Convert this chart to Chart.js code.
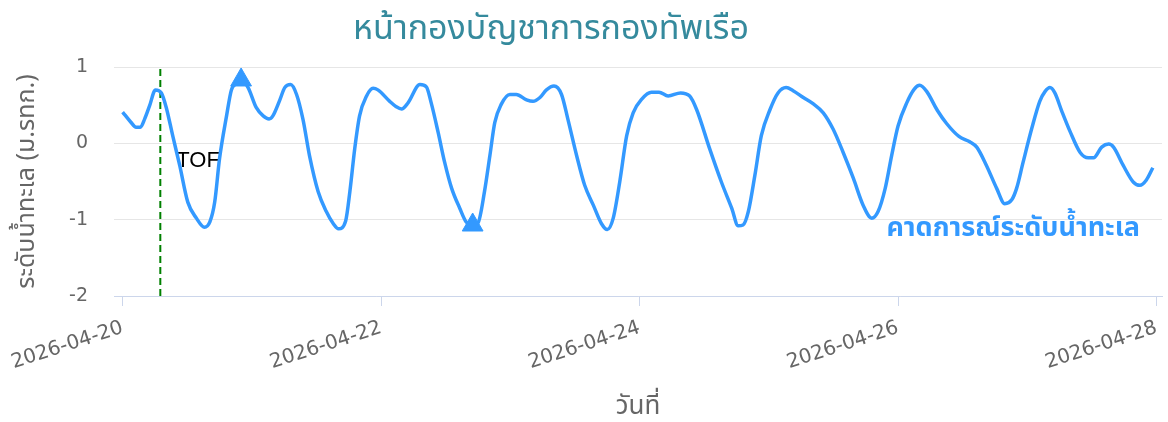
<!DOCTYPE html>
<html lang="th">
<head>
<meta charset="UTF-8">
<title>ระดับน้ำทะเล หน้ากองบัญชาการกองทัพเรือ</title>
<script src="https://cdn.jsdelivr.net/npm/chart.js@4"></script>
<style>
  html, body { margin: 0; padding: 0; background: #fff; overflow: hidden; }
  #wrap { width: 1168px; height: 422px; position: relative; }
</style>
</head>
<body>
<div id="wrap"><canvas id="tide"></canvas></div>
<script>
const chartTitle = 'หน้ากองบัญชาการกองทัพเรือ';
const seriesName = 'คาดการณ์ระดับน้ำทะเล';
const yTitle = 'ระดับน้ำทะเล (ม.รทก.)';
const xTitle = 'วันที่';
const startDay = Date.UTC(2026, 3, 20);

// hours after 2026-04-20 00:00
const hours = [
  0, 1.5, 2.5, 3.3, 4.1, 5, 6.1, 7.2, 8.1, 9.3, 10.6, 12.1, 13.7, 15.2, 16.2, 17.1, 18, 19.3, 20.2, 21.1, 22, 23.3,
  24.8, 26.1, 27.2, 27.9, 29.2, 30.1, 31.2, 32.3, 33.5, 34.7, 36.3, 37.8, 39.1, 40.1, 41.4, 42.2, 43.1, 44, 45.3, 46.5, 47.4,
  49.6, 50.8, 51.8, 53, 55.2, 56.4, 57.3, 58.6, 59.8, 61.1, 62.6, 63.8, 65, 66, 67.2, 68.2, 69.1, 70.3, 71.9,
  73.1, 75, 76.2, 77.5, 78.7, 80.1, 81.5, 82.7, 84.3, 85.8, 87.4, 88.9, 90, 91.1, 92.3, 93.6, 94.8,
  96.4, 98.2, 99.6, 101.3, 103.6, 105.3, 106.6, 109, 111.2, 113.1, 114.3, 115.2, 116.2, 117.4, 118.6,
  120.2, 121.7, 123.2, 124.5, 126.4, 128.2, 130.1, 131.9, 133.8, 135.7, 137.5, 139.1, 140.3, 141.6, 142.8,
  144, 145.6, 147, 148, 149.3, 151.3, 153, 155.3, 157.3, 158.6, 160.4, 162.3, 163.8, 165.1, 166, 167.2,
  168.8, 170.3, 171.3, 172.2, 173.1, 174.4, 175.9, 177.8, 179.3, 180.3, 181.8, 183.1, 184, 185.8, 187.7, 188.9, 190.1, 191.3
];
// sea level (m MSL)
const levels = [
  0.41, 0.28, 0.21, 0.21, 0.32, 0.49, 0.70, 0.66, 0.47, 0.10, -0.29, -0.77, -0.98, -1.10, -1.03, -0.77, -0.20, 0.36, 0.70, 0.78, 0.83, 0.73,
  0.47, 0.36, 0.32, 0.36, 0.57, 0.73, 0.77, 0.64, 0.31, -0.16, -0.63, -0.89, -1.05, -1.12, -1.02, -0.63, -0.07, 0.36, 0.62, 0.72, 0.70,
  0.55, 0.48, 0.45, 0.53, 0.77, 0.74, 0.53, 0.14, -0.25, -0.59, -0.85, -1.03, -1.07, -1.04, -0.63, -0.16, 0.27, 0.51, 0.64,
  0.64, 0.57, 0.55, 0.60, 0.70, 0.75, 0.64, 0.31, -0.16, -0.55, -0.81, -1.05, -1.13, -0.98, -0.51, 0.10, 0.40,
  0.58, 0.67, 0.67, 0.62, 0.66, 0.62, 0.44, -0.07, -0.51, -0.85, -1.08, -1.07, -0.89, -0.42, 0.10,
  0.44, 0.66, 0.73, 0.69, 0.60, 0.52, 0.40, 0.19, -0.12, -0.46, -0.81, -0.98, -0.89, -0.59, -0.16,
  0.23, 0.53, 0.71, 0.76, 0.68, 0.43, 0.26, 0.09, 0.02, -0.05, -0.29, -0.59, -0.79, -0.74, -0.59, -0.25,
  0.19, 0.55, 0.68, 0.73, 0.66, 0.42, 0.16, -0.12, -0.19, -0.19, -0.05, -0.01, -0.05, -0.29, -0.51, -0.55, -0.48, -0.32
];
// high / low markers
const markerHours = [22, 65];
const markerLevels = [0.83, -1.07];
// TOF marker line
const tofHour = 7;
const tofLabel = 'TOF';
const tofSpan = [-2, 1];

const blue = '#3399ff';
const grey = '#666666';
const thaiFont = '"Noto Sans Thai", "Noto Sans", "Open Sans", sans-serif';
const tickFont = '"DejaVu Sans", sans-serif';

const pts = (xs, ys) => xs.map((x, i) => ({ x, y: ys[i] }));

function dayLabel(h) {
  return new Date(startDay + h * 3600 * 1000).toISOString().slice(0, 10);
}

const extras = {
  id: 'extras',
  beforeDatasetsDraw(chart) {
    const { ctx, scales: { x, y } } = chart;
    ctx.save();
    ctx.font = '22px "Liberation Sans", Arial, sans-serif';
    ctx.fillStyle = '#000';
    ctx.textAlign = 'left';
    ctx.textBaseline = 'alphabetic';
    ctx.fillText(tofLabel, x.getPixelForValue(tofHour) + 16, y.getPixelForValue(0) + 24);
    ctx.restore();
  },
  afterDraw(chart) {
    const { ctx, chartArea, scales: { y } } = chart;
    ctx.save();
    ctx.font = 'bold 27px ' + thaiFont;
    ctx.fillStyle = blue;
    ctx.textAlign = 'right';
    ctx.textBaseline = 'alphabetic';
    ctx.fillText(seriesName, chartArea.right - 22, y.getPixelForValue(-1) + 16);

    ctx.font = '34px ' + thaiFont;
    ctx.fillStyle = '#358a9d';
    ctx.textAlign = 'center';
    ctx.textBaseline = 'middle';
    ctx.fillText(chartTitle, 551, 32);
    ctx.restore();
  }
};

new Chart(document.getElementById('tide'), {
  type: 'line',
  data: {
    datasets: [
      {
        label: seriesName,
        data: pts(hours, levels),
        borderColor: blue,
        borderWidth: 3.5,
        pointRadius: 0,
        cubicInterpolationMode: 'monotone',
        fill: false,
        order: 2
      },
      {
        label: 'markers',
        data: pts(markerHours, markerLevels),
        showLine: false,
        pointStyle: 'triangle',
        pointRadius: 12,
        backgroundColor: blue,
        borderColor: blue,
        borderWidth: 1,
        order: 1
      },
      {
        label: tofLabel,
        data: pts([tofHour, tofHour], tofSpan),
        borderColor: '#008000',
        borderWidth: 2,
        borderDash: [7, 4],
        pointRadius: 0,
        order: 3
      }
    ]
  },
  options: {
    responsive: true,
    maintainAspectRatio: false,
    animation: false,
    layout: { autoPadding: false, padding: { top: 67, right: 6, left: 0, bottom: 0 } },
    plugins: {
      legend: { display: false },
      tooltip: { enabled: false },
      title: { display: false }
    },
    scales: {
      x: {
        type: 'linear',
        min: -1.6,
        max: 193,
        afterFit(s) { s.height = 126; s.paddingLeft = 0; s.paddingRight = 0; },
        border: { display: true, color: '#ccd6eb', width: 1 },
        grid: { drawOnChartArea: false, drawTicks: true, tickLength: 10, color: '#ccd6eb' },
        ticks: {
          stepSize: 48,
          includeBounds: false,
          autoSkip: false,
          minRotation: 18,
          maxRotation: 18,
          padding: 10,
          color: grey,
          font: { size: 20, family: tickFont },
          callback: v => dayLabel(v)
        },
        title: {
          display: true,
          text: xTitle,
          color: grey,
          font: { size: 26, family: thaiFont },
          padding: { top: 0, bottom: -2 }
        }
      },
      y: {
        min: -2,
        max: 1,
        afterFit(s) { s.width = 114; },
        border: { display: false },
        grid: { color: '#e6e6e6', lineWidth: 1, drawTicks: false },
        ticks: {
          stepSize: 1,
          padding: 26,
          color: grey,
          font: { size: 19, family: tickFont }
        },
        title: {
          display: true,
          text: yTitle,
          color: grey,
          font: { size: 25, family: thaiFont },
          padding: { top: 14, bottom: 0 }
        }
      }
    }
  },
  plugins: [extras]
});
</script>
</body>
</html>
